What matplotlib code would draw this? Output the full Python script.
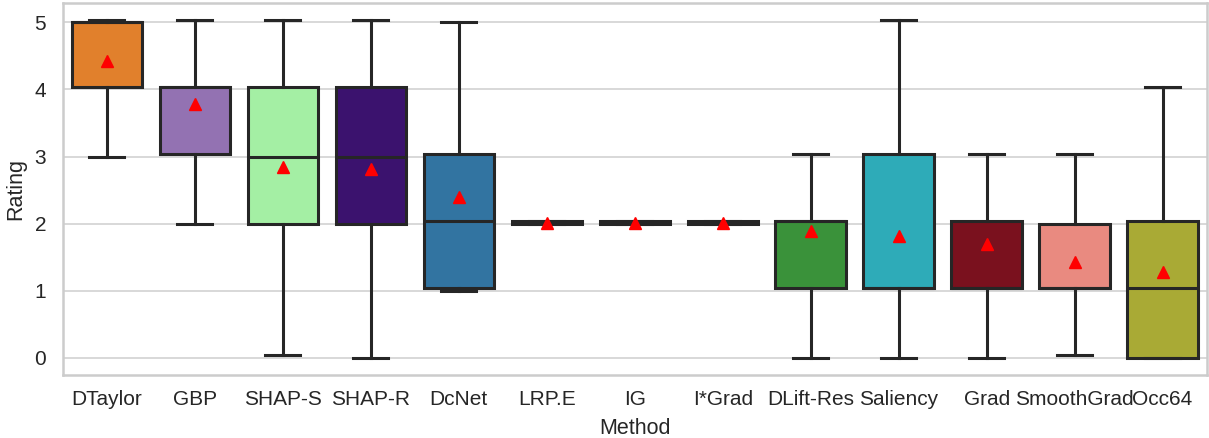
import matplotlib.pyplot as plt

# summary stats
methods = ["DTaylor", "GBP", "SHAP-S", "SHAP-R", "DcNet", "LRP.E", "IG", "I*Grad",
           "DLift-Res", "Saliency", "Grad", "SmoothGrad", "Occ64"]
whislo = [3.0, 2.0, 0.03, 0.0, 1.0, 2.0, 2.0, 2.0, 0.0, 0.0, 0.0, 0.03, 0.0]
q1 = [4.03, 3.03, 2.0, 2.0, 1.03, 2.0, 2.0, 2.0, 1.03, 1.03, 1.03, 1.03, 0.0]
med = [5.0, 4.03, 3.0, 3.0, 2.04, 2.02, 2.02, 2.02, 2.03, 1.03, 1.03, 1.03, 1.03]
q3 = [5.0, 4.03, 4.03, 4.03, 3.03, 2.03, 2.03, 2.03, 2.03, 3.03, 2.03, 2.0, 2.03]
whishi = [5.03, 5.03, 5.03, 5.03, 5.0, 2.03, 2.03, 2.03, 3.03, 5.03, 3.03, 3.03, 4.03]
means = [4.43, 3.78, 2.85, 2.81, 2.4, 2.01, 2.01, 2.01, 1.89, 1.81, 1.69, 1.43, 1.27]

# seaborn-like desaturated colours
colors = ["#E1802C", "#9372B2", "#A4EFA4", "#3B126E", "#3274A1", "#A4EFA4", "#A4EFA4",
          "#A4EFA4", "#3A923A", "#2EABB8", "#7A111E", "#E98A80", "#A9AA35"]

plt.rcParams['font.family'] = ['Liberation Sans', 'DejaVu Sans']
edge = "#262626"

fig = plt.figure(figsize=(12.09, 4.38), dpi=100)
ax = fig.add_axes([0.052, 0.144, 0.946, 0.849])

stats = []
for i, m in enumerate(methods):
    stats.append(dict(label=m, whislo=whislo[i], q1=q1[i], med=med[i], q3=q3[i],
                      whishi=whishi[i], mean=means[i], fliers=[]))

lw = 2.2
bp = ax.bxp(stats, positions=range(len(methods)), widths=0.8, patch_artist=True,
            showmeans=True, showfliers=False,
            boxprops=dict(edgecolor=edge, linewidth=lw),
            whiskerprops=dict(color=edge, linewidth=lw),
            capprops=dict(color=edge, linewidth=lw),
            medianprops=dict(color=edge, linewidth=lw),
            meanprops=dict(marker="^", markerfacecolor="red", markeredgecolor="red",
                           markersize=9), capwidths=0.4)
for patch, c in zip(bp["boxes"], colors):
    patch.set_facecolor(c)
for mk in bp["means"]:
    mk.set_zorder(5)

ax.set_xlim(-0.5, len(methods) - 0.5)
ax.set_ylim(-0.26, 5.29)
ax.set_yticks([0, 1, 2, 3, 4, 5])
ax.yaxis.grid(True, color="#d5d5d5", linewidth=1.3)
ax.set_axisbelow(True)
for s in ax.spines.values():
    s.set_color("#cccccc")
    s.set_linewidth(1.8)
ax.tick_params(length=0, labelsize=15, colors=edge)
ax.tick_params(axis="x", pad=11)
ax.tick_params(axis="y", pad=12)
ax.set_xlabel("Method", fontsize=15.5, color=edge, labelpad=6)
ax.set_ylabel("Rating", fontsize=15.5, color=edge, labelpad=6)

fig.savefig("out.png", dpi=100)
